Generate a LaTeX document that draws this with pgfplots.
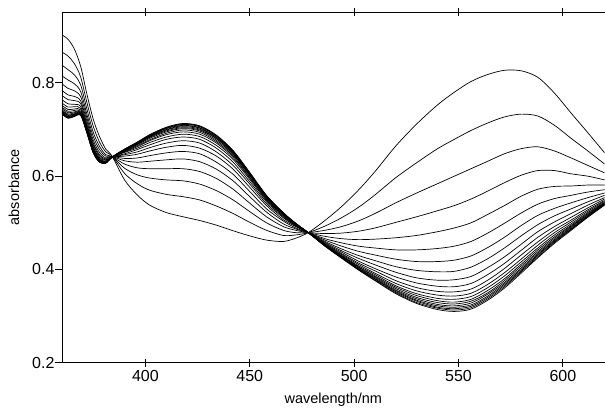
\documentclass[border=0pt]{standalone}
\usepackage{fontspec}
\setmainfont{Liberation Sans}
\usepackage{pgfplots}
\usepackage{pgfplotstable}
\pgfplotsset{compat=1.18}

% absorbance spectra, one column per titration step (c0 first, c19 last)
\pgfplotstableread{
x c0 c1 c2 c3 c4 c5 c6 c7 c8 c9 c10 c11 c12 c13 c14 c15 c16 c17 c18 c19
360 0.903 0.866 0.838 0.815 0.798 0.784 0.773 0.764 0.757 0.752 0.748 0.745 0.742 0.740 0.739 0.737 0.736 0.735 0.734 0.733
363 0.893 0.857 0.828 0.806 0.788 0.774 0.764 0.755 0.748 0.743 0.739 0.736 0.733 0.731 0.730 0.728 0.727 0.726 0.725 0.724
366 0.872 0.841 0.817 0.798 0.783 0.771 0.762 0.754 0.749 0.744 0.741 0.738 0.736 0.734 0.733 0.732 0.731 0.730 0.729 0.728
369 0.835 0.812 0.795 0.781 0.770 0.761 0.755 0.749 0.745 0.742 0.739 0.737 0.736 0.735 0.734 0.733 0.732 0.731 0.731 0.730
372 0.775 0.757 0.743 0.732 0.724 0.717 0.711 0.707 0.704 0.701 0.699 0.698 0.697 0.696 0.695 0.694 0.694 0.693 0.692 0.692
375 0.722 0.707 0.694 0.685 0.677 0.671 0.667 0.663 0.660 0.658 0.656 0.655 0.654 0.653 0.652 0.652 0.651 0.651 0.650 0.650
378 0.685 0.673 0.664 0.657 0.651 0.646 0.643 0.640 0.638 0.636 0.635 0.634 0.633 0.632 0.632 0.631 0.631 0.631 0.630 0.630
381 0.658 0.652 0.646 0.643 0.639 0.637 0.635 0.634 0.632 0.631 0.631 0.630 0.630 0.629 0.629 0.629 0.629 0.628 0.628 0.628
384 0.643 0.643 0.642 0.642 0.642 0.642 0.641 0.641 0.641 0.641 0.641 0.641 0.641 0.641 0.641 0.641 0.641 0.641 0.641 0.641
390 0.592 0.606 0.617 0.626 0.633 0.638 0.643 0.646 0.648 0.651 0.652 0.653 0.654 0.655 0.656 0.656 0.657 0.657 0.658 0.658
396 0.560 0.584 0.603 0.618 0.630 0.639 0.647 0.652 0.657 0.660 0.663 0.665 0.667 0.668 0.669 0.670 0.671 0.672 0.672 0.673
402 0.538 0.570 0.596 0.616 0.632 0.644 0.654 0.661 0.667 0.672 0.676 0.678 0.681 0.683 0.684 0.685 0.686 0.687 0.688 0.689
410 0.522 0.561 0.592 0.616 0.635 0.650 0.662 0.671 0.679 0.684 0.689 0.692 0.695 0.697 0.699 0.700 0.702 0.703 0.704 0.705
418 0.513 0.556 0.590 0.616 0.637 0.653 0.666 0.676 0.684 0.690 0.695 0.699 0.702 0.704 0.706 0.708 0.709 0.711 0.712 0.713
426 0.505 0.549 0.583 0.610 0.631 0.648 0.660 0.671 0.679 0.685 0.690 0.694 0.697 0.699 0.701 0.703 0.704 0.706 0.707 0.708
434 0.495 0.536 0.569 0.595 0.615 0.630 0.643 0.652 0.660 0.666 0.671 0.674 0.677 0.680 0.681 0.683 0.684 0.686 0.687 0.688
442 0.483 0.520 0.549 0.572 0.590 0.604 0.615 0.623 0.630 0.636 0.640 0.643 0.646 0.648 0.649 0.651 0.652 0.653 0.654 0.655
450 0.472 0.501 0.524 0.542 0.556 0.567 0.576 0.583 0.588 0.593 0.596 0.598 0.601 0.602 0.603 0.604 0.605 0.606 0.607 0.608
458 0.463 0.484 0.500 0.513 0.523 0.530 0.537 0.541 0.545 0.548 0.550 0.552 0.554 0.555 0.556 0.557 0.557 0.558 0.558 0.559
466 0.460 0.473 0.484 0.492 0.498 0.504 0.507 0.511 0.513 0.515 0.516 0.518 0.519 0.519 0.520 0.520 0.521 0.521 0.522 0.522
472 0.467 0.474 0.479 0.484 0.487 0.489 0.492 0.493 0.494 0.495 0.496 0.497 0.497 0.498 0.498 0.498 0.498 0.499 0.499 0.499
478 0.479 0.479 0.479 0.479 0.479 0.479 0.479 0.479 0.479 0.479 0.479 0.479 0.479 0.479 0.479 0.479 0.479 0.479 0.479 0.479
486 0.505 0.493 0.484 0.477 0.471 0.466 0.463 0.460 0.458 0.456 0.455 0.454 0.453 0.452 0.452 0.451 0.451 0.451 0.450 0.450
494 0.535 0.511 0.492 0.478 0.466 0.457 0.450 0.444 0.440 0.437 0.434 0.432 0.430 0.429 0.428 0.427 0.426 0.425 0.425 0.424
502 0.570 0.533 0.504 0.482 0.464 0.450 0.439 0.430 0.424 0.418 0.414 0.411 0.408 0.406 0.405 0.403 0.402 0.401 0.400 0.399
510 0.610 0.560 0.520 0.489 0.465 0.446 0.431 0.419 0.410 0.402 0.397 0.392 0.389 0.386 0.384 0.382 0.380 0.379 0.377 0.376
520 0.665 0.597 0.543 0.501 0.468 0.442 0.422 0.406 0.394 0.384 0.376 0.370 0.365 0.362 0.359 0.356 0.354 0.352 0.350 0.348
530 0.712 0.629 0.564 0.513 0.473 0.442 0.417 0.398 0.382 0.371 0.361 0.354 0.348 0.344 0.340 0.337 0.334 0.332 0.329 0.327
540 0.753 0.659 0.584 0.526 0.481 0.445 0.417 0.395 0.377 0.364 0.353 0.345 0.338 0.333 0.329 0.325 0.322 0.319 0.317 0.314
548 0.780 0.679 0.600 0.537 0.489 0.450 0.420 0.396 0.378 0.363 0.352 0.343 0.336 0.330 0.326 0.322 0.319 0.316 0.313 0.310
556 0.803 0.698 0.616 0.551 0.500 0.460 0.429 0.405 0.385 0.370 0.358 0.349 0.342 0.336 0.332 0.328 0.324 0.321 0.318 0.315
564 0.818 0.714 0.632 0.568 0.518 0.478 0.447 0.423 0.404 0.389 0.377 0.368 0.361 0.355 0.350 0.347 0.343 0.340 0.337 0.334
572 0.827 0.727 0.648 0.586 0.537 0.499 0.469 0.446 0.427 0.413 0.402 0.393 0.386 0.380 0.376 0.372 0.369 0.366 0.363 0.360
580 0.826 0.733 0.659 0.602 0.557 0.521 0.494 0.472 0.454 0.441 0.431 0.422 0.416 0.411 0.407 0.403 0.400 0.397 0.395 0.392
588 0.812 0.729 0.663 0.612 0.572 0.540 0.516 0.496 0.481 0.469 0.459 0.452 0.446 0.442 0.438 0.435 0.432 0.430 0.427 0.425
596 0.778 0.709 0.654 0.612 0.578 0.552 0.531 0.515 0.502 0.492 0.485 0.479 0.474 0.470 0.467 0.464 0.462 0.460 0.458 0.456
604 0.735 0.681 0.639 0.605 0.579 0.559 0.543 0.530 0.520 0.512 0.506 0.502 0.498 0.495 0.493 0.491 0.489 0.487 0.486 0.484
612 0.693 0.654 0.623 0.600 0.581 0.566 0.554 0.545 0.538 0.532 0.528 0.525 0.522 0.520 0.518 0.517 0.515 0.514 0.513 0.512
620 0.650 0.626 0.607 0.592 0.581 0.571 0.564 0.559 0.554 0.551 0.548 0.546 0.544 0.543 0.542 0.541 0.540 0.539 0.539 0.538
}\spectra

\begin{document}
\begin{tikzpicture}
\begin{axis}[
    scale only axis,
    width=543pt,
    height=351pt,
    xmin=360, xmax=620,
    ymin=0.2, ymax=0.952,
    axis x line*=box,
    axis y line*=left,
    axis line style={line width=0.8pt},
    xtick={400,450,...,600},
    ytick={0.2,0.4,0.6,0.8},
    tick align=center,
    major tick length=8pt,
    tick style={black, line width=0.8pt},
    y tick style={xshift=-3pt},
    yticklabel style={/pgf/number format/fixed, /pgf/number format/precision=1, /pgf/number format/fixed zerofill},
    /pgf/number format/assume math mode=true,
    ticklabel style={font=\fontsize{16}{18}\selectfont},
    label style={font=\fontsize{14.5}{17}\selectfont},
    xlabel={wavelength/nm},
    ylabel={absorbance},
    xlabel style={yshift=-5pt},
    ylabel style={yshift=6pt},
]
\pgfplotsinvokeforeach{0,...,19}{
    \addplot[black, line width=0.7pt, smooth, no markers] table[x=x, y=c#1]{\spectra};
}
\end{axis}
\path ([shift={(-62pt,-44pt)}]current axis.south west) rectangle ([shift={(0pt,12pt)}]current axis.north east);
\end{tikzpicture}
\end{document}
